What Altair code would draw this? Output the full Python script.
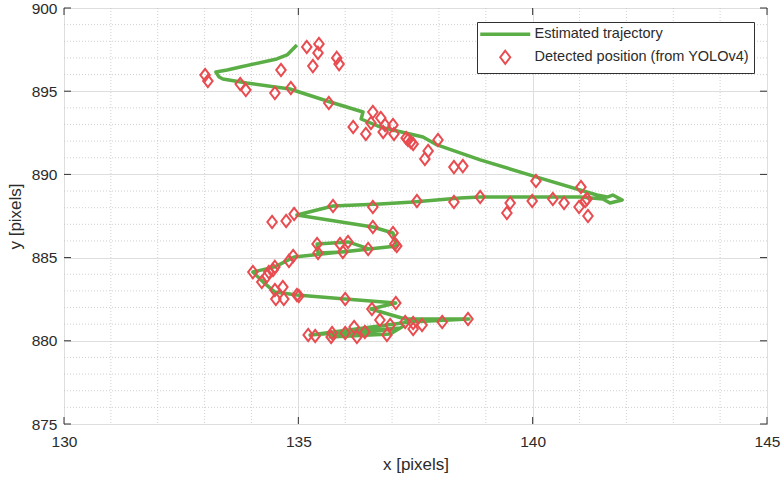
import altair as alt
import pandas as pd

# Detected positions (from YOLOv4)
det_x = [135.18, 135.42, 135.44, 135.31, 135.82, 135.87, 134.63, 133.01, 133.07, 133.76, 133.88, 134.50, 134.84, 135.65,
         136.17, 136.44, 136.59, 136.55, 136.76, 136.81, 136.85, 137.02, 137.04, 137.30, 137.34, 137.40, 137.45, 137.98,
         137.77, 137.70, 138.32, 138.51,
         140.07, 141.03, 141.16, 141.12, 141.18, 140.99, 140.67, 140.43, 139.99, 139.52, 139.45, 138.88, 138.32, 137.53,
         136.59, 135.74, 134.91, 134.74, 134.44,
         136.59, 137.02, 137.10, 137.06, 135.40, 135.89, 136.06, 136.49, 135.42, 135.95, 134.89, 134.80, 134.50, 134.46,
         134.37, 134.03, 134.22, 134.33, 134.50, 134.67, 134.52, 134.69, 134.97, 135.01,
         136.00, 137.08, 136.57, 136.74, 136.96, 137.28, 137.45, 137.45, 137.64, 138.07, 138.62, 136.89, 136.42, 136.25,
         136.19, 136.00, 135.72, 135.70, 135.36, 135.21]
det_y = [897.66, 897.30, 897.84, 896.51, 897.00, 896.63, 896.27, 895.97, 895.61, 895.43, 895.07, 894.89, 895.19, 894.29,
         892.85, 892.43, 893.75, 893.09, 893.39, 892.55, 892.97, 892.97, 892.43, 892.19, 892.07, 891.95, 891.83, 892.07,
         891.41, 890.93, 890.44, 890.50,
         889.60, 889.24, 888.52, 888.40, 887.50, 888.04, 888.28, 888.52, 888.40, 888.28, 887.68, 888.64, 888.34, 888.40,
         888.04, 888.10, 887.62, 887.20, 887.14,
         886.84, 886.48, 885.70, 885.82, 885.82, 885.82, 885.94, 885.52, 885.28, 885.34, 885.10, 884.80, 884.44, 884.26,
         884.13, 884.13, 883.53, 883.89, 883.05, 883.23, 882.51, 882.51, 882.75, 882.69,
         882.51, 882.27, 881.91, 881.25, 880.95, 881.13, 881.07, 880.71, 880.95, 881.13, 881.31, 880.35, 880.53, 880.23,
         880.83, 880.47, 880.47, 880.23, 880.29, 880.35]

# Estimated trajectory
traj_x = [134.97, 134.76, 134.54, 133.76, 133.48, 133.24, 133.31, 133.39, 133.90, 134.82, 135.68, 136.38, 136.34, 136.44,
          136.74, 137.66, 137.96, 138.88, 140.09, 141.37, 141.59, 141.71, 141.91, 141.65, 141.50, 141.01, 139.94, 138.88,
          138.45, 137.45, 136.74, 135.74, 134.97, 136.59, 137.02, 137.10, 136.51, 136.06, 135.40, 135.42, 135.95, 136.51,
          134.91, 134.50, 134.03, 134.25, 134.50, 134.97, 136.00, 137.08, 136.55, 137.28, 138.64, 137.38, 135.25, 137.17,
          135.68, 136.96, 137.28]
traj_y = [897.78, 897.18, 896.94, 896.45, 896.27, 896.15, 895.85, 895.73, 895.49, 895.13, 894.35, 893.75, 893.33, 893.21,
          892.85, 892.25, 891.77, 890.87, 889.84, 888.76, 888.64, 888.76, 888.46, 888.28, 888.52, 888.64, 888.64, 888.64,
          888.58, 888.34, 888.22, 888.10, 887.56, 886.84, 886.48, 885.70, 885.52, 885.94, 885.82, 885.28, 885.34, 885.52,
          885.04, 884.44, 884.13, 883.53, 882.93, 882.75, 882.51, 882.27, 881.91, 881.31, 881.31, 881.13, 880.35, 880.77,
          880.23, 880.41, 880.95]

x_major = [130, 135, 140, 145]
y_major = [875, 880, 885, 890, 895, 900]
x_minor = [131, 132, 133, 134, 136, 137, 138, 139, 141, 142, 143, 144]
y_minor = [876, 877, 878, 879, 881, 882, 883, 884, 886, 887, 888, 889, 891, 892, 893, 894, 896, 897, 898, 899]

labels = ["Estimated trajectory", "Detected position (from YOLOv4)"]

GREEN = "#5aae45"
RED = "#e84c50"
FONT = "Liberation Sans"
TXT = "#2b2b2b"
BOX = "#303030"

det_df = pd.DataFrame({"x": det_x, "y": det_y, "series": labels[1]})
traj_df = pd.DataFrame({"x": traj_x, "y": traj_y, "i": list(range(len(traj_x)))})
xmaj_df = pd.DataFrame({"x": x_major})
ymaj_df = pd.DataFrame({"y": y_major})

xs = alt.Scale(domain=[130, 145], nice=False, zero=False)
ys = alt.Scale(domain=[875, 900], nice=False, zero=False)

x_axis = alt.Axis(values=x_major, grid=True, gridColor="#dedede", domain=False, ticks=False,
                  labelFontSize=15.5, labelColor=TXT, labelFont=FONT, labelPadding=10, labelFlush=False,
                  title="x [pixels]", titleFontSize=17, titleFont=FONT, titleColor=TXT,
                  titleFontWeight="normal", titlePadding=7, format="d")
y_axis = alt.Axis(values=y_major, grid=True, gridColor="#dedede", domain=False, ticks=False,
                  labelFontSize=15.5, labelColor=TXT, labelFont=FONT, labelPadding=7, labelFlush=False,
                  title="y [pixels]", titleFontSize=17, titleFont=FONT, titleColor=TXT,
                  titleFontWeight="normal", titlePadding=7, format="d")

X = alt.X("x:Q", scale=xs, axis=x_axis)
Y = alt.Y("y:Q", scale=ys, axis=y_axis)

minor_x = alt.Chart(pd.DataFrame({"x": x_minor})).mark_rule(
    color="#c4c4c4", strokeDash=[1, 2], strokeWidth=0.8).encode(x=X)
minor_y = alt.Chart(pd.DataFrame({"y": y_minor})).mark_rule(
    color="#c4c4c4", strokeDash=[1, 2], strokeWidth=0.8).encode(y=Y)

# inward major ticks on all four sides (MATLAB box style)
tick_style = dict(color=BOX, strokeWidth=1)
tick_bottom = alt.Chart(xmaj_df).mark_rule(**tick_style).encode(x=X, y=alt.value(416), y2=alt.value(409))
tick_top = alt.Chart(xmaj_df).mark_rule(**tick_style).encode(x=X, y=alt.value(0), y2=alt.value(7))
tick_left = alt.Chart(ymaj_df).mark_rule(**tick_style).encode(y=Y, x=alt.value(0), x2=alt.value(7))
tick_right = alt.Chart(ymaj_df).mark_rule(**tick_style).encode(y=Y, x=alt.value(703), x2=alt.value(696))

line = alt.Chart(traj_df).mark_line(color=GREEN, strokeWidth=3.5, strokeJoin="round").encode(
    x=X, y=Y, order="i:Q")

legend = alt.Legend(title=None, orient="none", legendX=413, legendY=14,
                    labelFont=FONT, labelFontSize=14.5, labelColor=TXT, labelLimit=0,
                    strokeColor=BOX, fillColor="white", padding=5,
                    symbolOffset=16, labelOffset=22, rowPadding=4)

line_path = "M-5,0L5,0"
diamond_path = "M0,-1.3L1,0L0,1.3L-1,0Z"

points = alt.Chart(det_df).mark_point(filled=False, size=90, opacity=1).encode(
    x=X, y=Y,
    color=alt.Color("series:N", scale=alt.Scale(domain=labels, range=[GREEN, RED]), legend=legend),
    shape=alt.Shape("series:N", scale=alt.Scale(domain=labels, range=[line_path, diamond_path]), legend=legend),
    strokeWidth=alt.StrokeWidth("series:N", scale=alt.Scale(domain=labels, range=[3.5, 2]), legend=legend),
)

chart = alt.layer(minor_x, minor_y, tick_bottom, tick_top, tick_left, tick_right, line, points).properties(
    width=703, height=416,
    autosize=alt.AutoSizeParams(type="none"),
    padding={"left": 64, "top": 8, "right": 14, "bottom": 55},
    background="white",
).configure_view(stroke=BOX, strokeWidth=1)

chart.save("out.html", embed_options={"renderer": "svg", "actions": False})
